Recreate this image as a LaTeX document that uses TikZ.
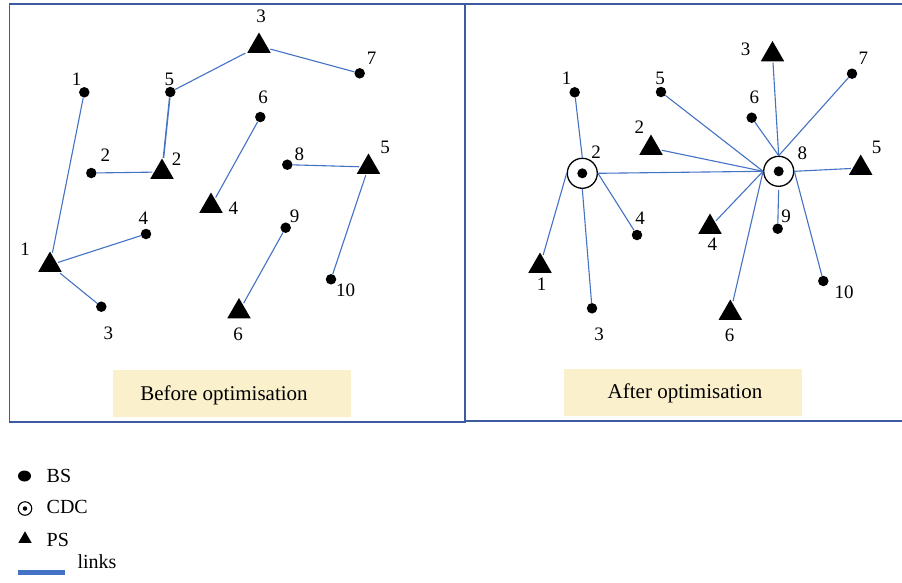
\documentclass[tikz,border=0pt]{standalone}
\usepackage{fontspec}
\setmainfont{Liberation Serif}
\usetikzlibrary{shapes.geometric}
\definecolor{framec}{RGB}{63,91,160}
\definecolor{linkc}{RGB}{68,114,196}
\definecolor{boxc}{RGB}{251,240,204}
\tikzset{
 bs/.style={circle,fill=black,inner sep=0pt,minimum size=10.5pt},
 ps/.style={regular polygon,regular polygon sides=3,fill=black,inner sep=0pt,outer sep=1.5pt,minimum size=27pt},
 cdc/.style={circle,draw=black,line width=1.3pt,fill=white,inner sep=0pt,minimum size=30pt},
 cdcdot/.style={circle,fill=black,inner sep=0pt,minimum size=10pt},
 lbl/.style={inner sep=0pt,font=\fontsize{19}{21}\selectfont},
 link/.style={draw=linkc,line width=1.1pt},
 capbox/.style={fill=boxc,inner sep=0pt},
 captext/.style={inner sep=0pt,font=\fontsize{21}{25}\selectfont},
 legtext/.style={inner sep=0pt,anchor=west,font=\fontsize{20}{23}\selectfont},
 panel/.style={draw=framec,line width=1.5pt},
}
\begin{document}
\begin{tikzpicture}[x=1pt,y=-1pt]
\useasboundingbox (0,0) rectangle (902,582);
\fill[white] (0,0) rectangle (902,582);
% panels
\draw[panel] (9.3,4) rectangle (465,422);
\draw[panel] (904,4) -- (465,4) -- (465,421) -- (904,421);
% caption boxes
\node[capbox,minimum width=237.4pt,minimum height=46.7pt] (boxL) at (232,393.3) {};
\node[captext] (capL) at (224,395) {Before optimisation};
\node[capbox,minimum width=237.4pt,minimum height=46.4pt] (boxR) at (683,392.5) {};
\node[captext] (capR) at (685,393.7) {After optimisation};

% ---------- left panel ----------
\node[bs] (lb1) at (84.3,92.3) {};
\node[bs] (lb5) at (170.3,92) {};
\node[bs] (lb7) at (359.7,73.3) {};
\node[bs] (lb6) at (260.3,117) {};
\node[bs] (lb2) at (91.3,173) {};
\node[bs] (lb8) at (287.3,164.7) {};
\node[bs] (lb4) at (146,234) {};
\node[bs] (lb9) at (285.7,227.7) {};
\node[bs] (lb10) at (331,279.3) {};
\node[bs] (lb3) at (101.3,306.7) {};
\node[ps] (lp3) at (259,46) {};
\node[ps] (lp2) at (162,172) {};
\node[ps] (lp5) at (368.5,167) {};
\node[ps] (lp4) at (211,206) {};
\node[ps] (lp1) at (50,265) {};
\node[ps] (lp6) at (239,311.5) {};
\draw[link] (lp3) -- (lb5);
\draw[link] (lp3) -- (lb7);
\draw[link,line width=1.6pt] (lb5) -- (lp2);
\draw[link] (lb2) -- (lp2);
\draw[link] (lb1) -- (lp1);
\draw[link] (lp1) -- (lb4);
\draw[link] (lp1) -- (lb3);
\draw[link] (lb6) -- (lp4);
\draw[link] (lb8) -- (lp5);
\draw[link] (lp5) -- (lb10);
\draw[link] (lb9) -- (lp6);
% left labels
\node[lbl] (tlb1) at (76.7,79) {1};
\node[lbl] (tlb5) at (169.3,79) {5};
\node[lbl] (tlp3) at (261,16) {3};
\node[lbl] (tlb7) at (371.7,58.3) {7};
\node[lbl] (tlb6) at (263,97.7) {6};
\node[lbl] (tlb2) at (105.3,155.3) {2};
\node[lbl] (tlp2) at (176.7,159.7) {2};
\node[lbl] (tlb8) at (299.3,154) {8};
\node[lbl] (tlp5) at (385,147) {5};
\node[lbl] (tlp4) at (233.3,208.7) {4};
\node[lbl] (tlb4) at (143.3,218.7) {4};
\node[lbl] (tlb9) at (294.7,216) {9};
\node[lbl] (tlp1) at (25,249.3) {1};
\node[lbl] (tlb10) at (345.7,290.3) {10};
\node[lbl] (tlb3) at (108.3,333.3) {3};
\node[lbl] (tlp6) at (238,334.7) {6};

% ---------- right panel ----------
\node[bs] (rb1) at (574.7,92.3) {};
\node[bs] (rb5) at (661,92) {};
\node[bs] (rb7) at (852,73.7) {};
\node[bs] (rb6) at (751.7,117.7) {};
\node[bs] (rb4) at (637,235) {};
\node[bs] (rb9) at (777.7,228.7) {};
\node[bs] (rb10) at (823.3,281) {};
\node[bs] (rb3) at (592,308.3) {};
\node[ps] (rp3) at (772.5,54.5) {};
\node[ps] (rp2) at (651,148) {};
\node[ps] (rp5) at (860.7,168) {};
\node[ps] (rp4) at (710,227) {};
\node[ps] (rp1) at (540,266) {};
\node[ps] (rp6) at (730.3,313) {};
\node[cdc] (c2) at (582.3,173.3) {};
\node[cdcdot] (c2d) at (c2.center) {};
\node[cdc] (c8) at (778.7,171.3) {};
\node[cdcdot] (c8d) at (c8.center) {};
\draw[link] (c2.north) -- (rb1);
\draw[link] (c2.west) -- (rp1);
\draw[link] (c2.south) -- (rb3);
\draw[link] (c2.east) -- (rb4);
\draw[link] (c2.east) -- (c8.west);
\draw[link] (c8.west) -- (rb5);
\draw[link] (c8.west) -- (rp2);
\draw[link] (c8.west) -- (rp4);
\draw[link] (c8.west) -- (rp6);
\draw[link] (c8.north) -- (rp3);
\draw[link] (c8.north) -- (rb7);
\draw[link] (c8.north) -- (rb6);
\draw[link] (c8.east) -- (rp5);
\draw[link] (c8.east) -- (rb10);
\draw[link,shorten <=3pt] (c8.south) -- (rb9);
% right labels
\node[lbl] (trb1) at (566.7,78.7) {1};
\node[lbl] (trb5) at (660,78.7) {5};
\node[lbl] (trp3) at (745.7,49.3) {3};
\node[lbl] (trb7) at (863.3,58.3) {7};
\node[lbl] (trb6) at (754.3,97.7) {6};
\node[lbl] (trp2) at (639.3,127.3) {2};
\node[lbl] (tc2) at (596,152.3) {2};
\node[lbl] (tc8) at (802.3,153.3) {8};
\node[lbl] (trp5) at (876.7,147) {5};
\node[lbl] (trp4) at (712.3,244.7) {4};
\node[lbl] (trb4) at (640,218.7) {4};
\node[lbl] (trb9) at (786,216.7) {9};
\node[lbl] (trp1) at (541.7,284.3) {1};
\node[lbl] (trb10) at (844,292) {10};
\node[lbl] (trb3) at (599,334) {3};
\node[lbl] (trp6) at (729.7,335) {6};

% ---------- legend ----------
\node[ellipse,fill=black,inner sep=0pt,minimum width=13pt,minimum height=11pt] (legbs) at (24.5,476) {};
\node[legtext] (legbst) at (46.5,475.7) {BS};
\node[circle,draw=black,line width=1.1pt,inner sep=0pt,minimum size=13.5pt] (legcdc) at (25,508.5) {};
\node[circle,fill=black,inner sep=0pt,minimum size=4.5pt] (legcdcd) at (legcdc.center) {};
\node[legtext] (legcdct) at (46.5,506.7) {CDC};
\node[regular polygon,regular polygon sides=3,fill=black,inner sep=0pt,minimum size=15.4pt] (legps) at (25,539) {};
\node[legtext] (legpst) at (46.5,539.5) {PS};
\coordinate (lka) at (18,572.3);
\coordinate (lkb) at (65,572.3);
\draw[draw=linkc,line width=5pt] (lka) -- (lkb);
\node[legtext] (legl) at (77.3,561.8) {links};
\end{tikzpicture}
\end{document}
